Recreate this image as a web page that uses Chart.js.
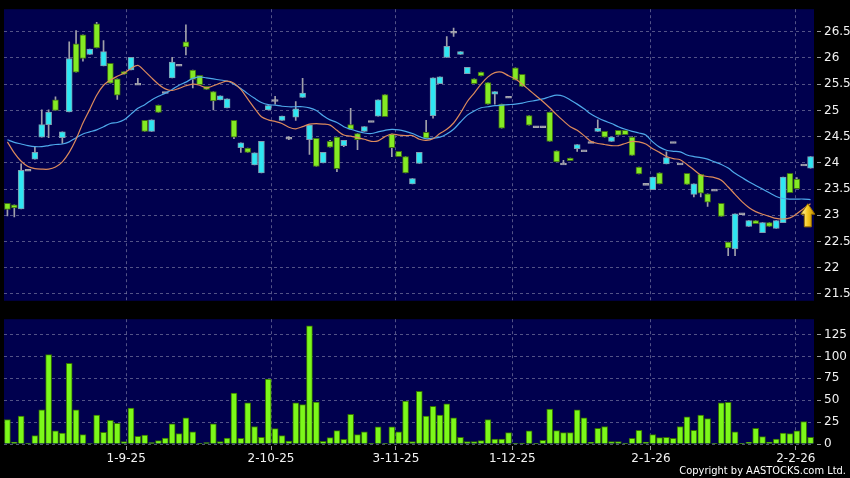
<!DOCTYPE html>
<html>
<head>
<meta charset="UTF-8">
<title>Price chart</title>
<script src="https://cdn.jsdelivr.net/npm/chart.js"></script>
<style>
    html, body { margin: 0; padding: 0; background: #000; }
    body { width: 850px; height: 478px; position: relative; overflow: hidden; }
    #priceChart { position: absolute; left: 0; top: 0; }
    #volumeChart { position: absolute; left: 0; top: 310px; }
    .copyright {
        position: absolute; right: 4px; top: 464px;
        color: #fff; font-family: 'DejaVu Sans Condensed', 'DejaVu Sans', sans-serif;
        font-stretch: condensed; font-size: 11px; line-height: 14px;
    }
</style>
</head>
<body>
<canvas id="priceChart" width="850" height="310"></canvas>
<canvas id="volumeChart" width="850" height="168"></canvas>
<div class="copyright">Copyright by AASTOCKS.com Ltd.</div>

<script>
// daily candles (one per trading day shown)
const opens = [23.23,23.20,23.12,23.86,24.07,24.49,24.73,25.20,24.48,24.97,
    26.27,26.44,26.07,26.65,25.85,25.90,25.60,25.74,25.77,25.50,
    24.81,24.60,25.10,25.34,25.62,25.86,26.31,25.77,25.67,25.46,
    25.36,25.20,25.05,24.81,24.29,24.28,23.96,23.81,25.01,25.19,
    24.81,24.47,24.87,25.25,24.44,24.47,24.00,24.41,24.49,24.33,
    24.73,24.56,24.60,24.79,24.89,25.30,24.55,24.22,24.12,23.60,
    23.99,24.58,24.90,25.51,26.01,26.49,26.07,25.70,25.60,25.73,
    25.53,25.31,25.12,25.25,25.81,25.69,24.90,24.69,24.69,24.97,
    24.23,23.98,24.09,24.27,24.23,24.39,24.60,24.60,24.41,24.62,
    24.62,24.49,23.92,23.59,23.49,23.81,23.98,24.39,23.98,23.80,
    23.40,23.78,23.41,23.48,23.23,22.49,22.36,23.03,22.79,22.90,
    22.67,22.86,22.75,22.86,23.80,23.69,23.96,23.90];
const highs = [23.23,23.20,23.98,23.86,24.31,25.01,25.01,25.26,24.59,26.31,
    26.52,26.44,26.17,26.68,26.33,25.90,25.60,25.74,26.01,25.61,
    24.81,24.82,25.10,25.34,26.01,25.86,26.63,25.77,25.67,25.46,
    25.36,25.28,25.22,24.81,24.38,24.28,24.19,24.41,25.09,25.27,
    24.89,24.50,25.17,25.61,24.72,24.47,24.20,24.43,24.49,24.43,
    25.04,24.56,24.69,24.79,25.20,25.30,24.55,24.22,24.12,23.70,
    24.20,24.81,25.62,25.64,26.41,26.57,26.12,25.82,25.60,25.73,
    25.53,25.36,25.12,25.25,25.81,25.69,24.90,24.69,24.69,24.97,
    24.23,24.05,24.09,24.35,24.23,24.39,24.82,24.60,24.49,24.62,
    24.62,24.50,23.92,23.59,23.73,23.81,24.21,24.39,23.98,23.80,
    23.60,23.78,23.41,23.48,23.23,22.49,23.03,23.03,22.90,22.90,
    22.86,22.86,22.90,23.73,23.80,23.72,23.96,24.12];
const lows = [22.99,22.97,23.12,23.86,24.07,24.49,24.48,25.00,24.37,24.97,
    25.73,25.94,26.07,26.19,25.85,25.52,25.21,25.69,25.77,25.50,
    24.60,24.60,24.96,25.34,25.62,25.86,26.06,25.43,25.49,25.40,
    25.01,25.20,25.05,24.46,24.20,24.20,23.96,23.81,25.01,25.12,
    24.81,24.44,24.81,25.25,24.16,23.93,24.00,24.30,23.83,24.31,
    24.64,24.25,24.60,24.79,24.89,24.88,24.12,24.12,23.81,23.60,
    23.99,24.47,24.85,25.51,26.01,26.41,26.07,25.70,25.51,25.66,
    25.12,25.12,24.66,25.25,25.58,25.46,24.72,24.69,24.69,24.41,
    24.02,23.98,24.04,24.22,24.23,24.39,24.60,24.49,24.41,24.53,
    24.54,24.14,23.79,23.59,23.49,23.60,23.98,24.39,23.98,23.59,
    23.35,23.35,23.17,23.48,22.98,22.23,22.23,23.03,22.79,22.84,
    22.67,22.79,22.75,22.86,23.43,23.51,23.96,23.90];
const closes = [23.11,23.14,23.86,23.86,24.20,24.73,24.97,25.00,24.59,25.99,
    25.73,25.99,26.17,26.19,26.12,25.52,25.29,25.69,26.01,25.50,
    24.60,24.82,24.96,25.34,25.92,25.86,26.21,25.59,25.49,25.40,
    25.18,25.28,25.22,24.49,24.38,24.20,24.19,24.41,25.09,25.19,
    24.89,24.47,25.03,25.33,24.72,23.93,24.20,24.30,23.89,24.43,
    24.64,24.44,24.69,24.79,25.20,24.88,24.29,24.12,23.81,23.70,
    24.20,24.47,25.62,25.64,26.22,26.49,26.12,25.82,25.51,25.66,
    25.12,25.36,24.66,25.25,25.58,25.46,24.72,24.69,24.69,24.41,
    24.02,23.98,24.04,24.35,24.23,24.39,24.66,24.49,24.49,24.53,
    24.54,24.14,23.79,23.59,23.73,23.60,24.10,24.39,23.98,23.59,
    23.60,23.42,23.25,23.48,22.98,22.38,23.03,23.03,22.90,22.84,
    22.86,22.79,22.90,23.73,23.43,23.51,23.96,24.12];

// moving averages
const maShort = [24.40,24.19,24.03,23.93,23.89,23.88,23.88,23.92,24.02,24.20,
    24.45,24.76,25.02,25.29,25.48,25.58,25.65,25.71,25.80,25.86,
    25.75,25.62,25.50,25.41,25.38,25.42,25.47,25.50,25.48,25.43,
    25.47,25.52,25.56,25.52,25.40,25.22,25.04,24.88,24.82,24.79,
    24.75,24.68,24.65,24.69,24.74,24.75,24.74,24.72,24.62,24.53,
    24.51,24.48,24.45,24.41,24.42,24.50,24.55,24.53,24.52,24.52,
    24.45,24.43,24.46,24.56,24.64,24.76,24.95,25.17,25.33,25.50,
    25.64,25.72,25.73,25.66,25.60,25.50,25.39,25.28,25.17,25.05,
    24.92,24.80,24.69,24.62,24.52,24.41,24.37,24.35,24.33,24.33,
    24.37,24.41,24.40,24.36,24.27,24.20,24.12,24.08,24.06,23.97,
    23.87,23.77,23.74,23.72,23.67,23.54,23.40,23.26,23.15,23.07,
    23.02,22.98,22.94,22.93,22.95,23.03,23.13,23.22];
const maLong = [24.44,24.39,24.36,24.33,24.31,24.31,24.33,24.35,24.36,24.40,
    24.48,24.55,24.59,24.63,24.69,24.75,24.77,24.82,24.93,25.04,
    25.11,25.20,25.27,25.33,25.40,25.48,25.54,25.61,25.64,25.62,
    25.60,25.58,25.56,25.50,25.42,25.32,25.23,25.15,25.11,25.10,
    25.08,25.07,25.07,25.07,25.05,25.00,24.90,24.82,24.77,24.69,
    24.64,24.60,24.57,24.56,24.59,24.62,24.64,24.63,24.60,24.56,
    24.50,24.46,24.47,24.49,24.55,24.64,24.78,24.91,24.99,25.05,
    25.07,25.09,25.10,25.11,25.12,25.14,25.17,25.19,25.22,25.26,
    25.29,25.27,25.20,25.12,25.03,24.93,24.86,24.80,24.75,24.69,
    24.64,24.60,24.57,24.53,24.40,24.30,24.24,24.22,24.21,24.15,
    24.12,24.10,24.07,24.02,23.97,23.90,23.80,23.72,23.64,23.57,
    23.50,23.43,23.36,23.32,23.31,23.31,23.31,23.30];

const volumes = [28,2.3,32,1,9.5,39,102,15,12.6,92,
    39,10.7,0.5,33,13.4,27,23.7,2.7,41,8.8,
    10.3,1.5,3.8,6.9,23,11.8,30,14,0.3,1.5,
    23,2.7,6.9,58,6.5,47,20,7.6,74,17.6,
    9.5,3.4,47,45,135,48,3,7.3,15.3,5.4,
    34,10.7,14,0.3,19.5,0.3,19.5,14,49,2.7,
    60,32,43,33,46,30,7.6,2.7,2.7,3.8,
    28,5.7,5.7,13,0.3,1,15,0.3,4.2,40,
    15.3,13,13,39,30,1.9,18,20,2.7,2.7,
    1,6.5,15.7,2.3,10.7,7.3,7.6,6.5,20,31,
    15.7,33,29,0.3,47,47.5,14,0.3,1.9,18,
    8.4,2.3,5.7,12.6,11.8,15,25.6,7.6];

// x axis: date labels and where they sit (in candle index units)
const dateLabels = ['1-9-25', '2-10-25', '3-11-25', '1-12-25', '2-1-26', '2-2-26'];
const datePos = [17.3, 38.4, 56.6, 73.55, 93.75, 114.85];

const priceTicks = [21.5, 22, 22.5, 23, 23.5, 24, 24.5, 25, 25.5, 26, 26.5];
const volumeTicks = [0, 25, 50, 75, 100, 125];

// yellow arrow marker beside the last candles
const arrowAt = { x: 116.6, top: 23.22, bottom: 22.78 };

const PLOT_BG = '#00004e';
const GRID = 'rgba(118,118,160,0.7)';
const UP = '#2fe6f2', UP_EDGE = '#7f9cb0';
const DOWN = '#84ea24', DOWN_EDGE = '#3e6c14';
const FLAT = '#a6a6ae';

Chart.defaults.font.family = "'DejaVu Sans', sans-serif";
Chart.defaults.font.size = 12;
Chart.defaults.color = '#f2f2f2';

const n = closes.length;
const bodies = [], wicks = [], bodyFill = [], bodyEdge = [];
for (let i = 0; i < n; i++) {
    const o = opens[i], c = closes[i];
    if (o === c) {
        bodies.push({ x: i, y: [c - 0.018, c + 0.018] });
        bodyFill.push(FLAT); bodyEdge.push(FLAT);
    } else {
        bodies.push({ x: i, y: [Math.min(o, c), Math.max(o, c)] });
        bodyFill.push(c > o ? UP : DOWN);
        bodyEdge.push(c > o ? UP_EDGE : DOWN_EDGE);
    }
    wicks.push({ x: i, y: [lows[i], highs[i]] });
}

const plotBackground = {
    id: 'plotBackground',
    beforeDraw(chart) {
        const a = chart.chartArea, ctx = chart.ctx;
        ctx.save();
        ctx.fillStyle = PLOT_BG;
        ctx.fillRect(a.left, a.top, a.right - a.left, a.bottom - a.top);
        ctx.restore();
    }
};

const arrowMarker = {
    id: 'arrowMarker',
    afterDatasetsDraw(chart) {
        const ctx = chart.ctx, xs = chart.scales.x, ys = chart.scales.y;
        const cx = xs.getPixelForValue(arrowAt.x);
        const top = ys.getPixelForValue(arrowAt.top);
        const bot = ys.getPixelForValue(arrowAt.bottom);
        const head = (bot - top) * 0.45;
        ctx.save();
        const g = ctx.createLinearGradient(cx - 6, 0, cx + 6, 0);
        g.addColorStop(0, '#fff2a0');
        g.addColorStop(0.5, '#f7c81e');
        g.addColorStop(1, '#c89400');
        ctx.fillStyle = g;
        ctx.strokeStyle = '#9a7000';
        ctx.lineWidth = 1;
        ctx.beginPath();
        ctx.moveTo(cx, top);
        ctx.lineTo(cx + 7, top + head);
        ctx.lineTo(cx + 3.5, top + head);
        ctx.lineTo(cx + 3.5, bot);
        ctx.lineTo(cx - 3.5, bot);
        ctx.lineTo(cx - 3.5, top + head);
        ctx.lineTo(cx - 7, top + head);
        ctx.closePath();
        ctx.fill();
        ctx.stroke();
        ctx.restore();
    }
};

function dateAxis(showLabels) {
    return {
        type: 'linear',
        offset: false,
        min: -0.5,
        max: n - 0.5,
        afterBuildTicks: s => { s.ticks = datePos.map(v => ({ value: v })); },
        afterFit: s => { s.height = showLabels ? 34 : 0; },
        ticks: {
            display: showLabels,
            autoSkip: false,
            maxRotation: 0,
            padding: 2,
            callback: (v, i) => dateLabels[i]
        },
        grid: {
            offset: false,
            color: GRID,
            drawTicks: showLabels,
            tickLength: 6,
            tickColor: '#9a9a9a',
            tickBorderDash: [0, 2, 4, 20]
        },
        border: { display: false, dash: [3, 3] }
    };
}

function valueAxis(min, max, tickValues) {
    return {
        position: 'right',
        min: min,
        max: max,
        afterBuildTicks: s => { s.ticks = tickValues.map(v => ({ value: v })); },
        afterFit: s => { s.width = 36; },
        ticks: { padding: 2, callback: v => String(v) },
        grid: {
            color: GRID,
            tickLength: 8,
            tickColor: '#9a9a9a',
            tickBorderDash: [0, 3, 4, 20]
        },
        border: { display: false, dash: [3, 3] }
    };
}

new Chart(document.getElementById('priceChart'), {
    type: 'bar',
    data: {
        datasets: [
            {
                type: 'line',
                data: maShort.map((v, i) => ({ x: i, y: v })),
                borderColor: '#dc8a5c',
                borderWidth: 1.2,
                pointRadius: 0,
                tension: 0.3,
                order: 0
            },
            {
                type: 'line',
                data: maLong.map((v, i) => ({ x: i, y: v })),
                borderColor: '#4ea8ea',
                borderWidth: 1.2,
                pointRadius: 0,
                tension: 0.3,
                order: 0
            },
            {
                data: bodies,
                backgroundColor: bodyFill,
                borderColor: bodyEdge,
                borderWidth: 1,
                borderSkipped: false,
                barThickness: 6,
                grouped: false,
                order: 1
            },
            {
                data: wicks,
                backgroundColor: '#a0a0aa',
                borderWidth: 0,
                barThickness: 1,
                grouped: false,
                order: 2
            }
        ]
    },
    options: {
        responsive: false,
        animation: false,
        devicePixelRatio: 1,
        layout: { padding: { left: 4, right: 0, top: 5, bottom: 5 } },
        plugins: { legend: { display: false }, tooltip: { enabled: false } },
        scales: {
            x: dateAxis(false),
            y: valueAxis(21.37, 26.93, priceTicks)
        }
    },
    plugins: [plotBackground, arrowMarker]
});

new Chart(document.getElementById('volumeChart'), {
    type: 'bar',
    data: {
        datasets: [{
            data: volumes.map((v, i) => ({ x: i, y: v })),
            backgroundColor: '#7cf81a',
            borderColor: '#347000',
            borderWidth: 1,
            borderSkipped: 'bottom',
            barThickness: 6
        }]
    },
    options: {
        responsive: false,
        animation: false,
        devicePixelRatio: 1,
        layout: { padding: { left: 4, right: 0, top: 9, bottom: 0 } },
        plugins: { legend: { display: false }, tooltip: { enabled: false } },
        scales: {
            x: dateAxis(true),
            y: valueAxis(0, 142.5, volumeTicks)
        }
    },
    plugins: [plotBackground]
});
</script>
</body>
</html>
